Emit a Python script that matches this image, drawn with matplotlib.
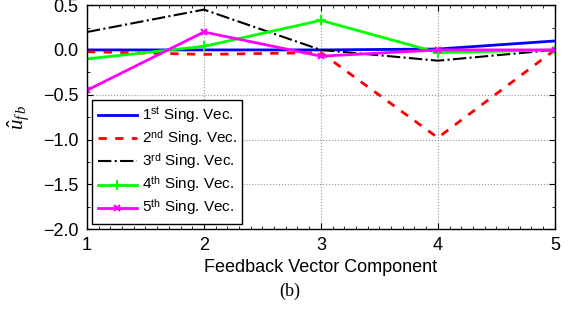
import matplotlib
matplotlib.use('Agg')
import matplotlib.pyplot as plt
from matplotlib.ticker import MultipleLocator, FuncFormatter

plt.rcParams['font.family'] = ['Liberation Sans', 'DejaVu Sans']
plt.rcParams['mathtext.fontset'] = 'custom'
plt.rcParams['mathtext.rm'] = 'Liberation Sans'
plt.rcParams['mathtext.it'] = 'Liberation Serif:italic'

components = [1, 2, 3, 4, 5]
sv1 = [0.0, 0.0, 0.0, 0.01, 0.1]
sv2 = [-0.02, -0.05, -0.03, -0.98, 0.0]
sv3 = [0.2, 0.45, 0.0, -0.12, 0.0]
sv4 = [-0.1, 0.04, 0.33, -0.03, 0.0]
sv5 = [-0.45, 0.2, -0.07, 0.0, 0.0]
labels = [r'1$^{\rm st}$ Sing. Vec.', r'2$^{\rm nd}$ Sing. Vec.', r'3$^{\rm rd}$ Sing. Vec.',
          r'4$^{\rm th}$ Sing. Vec.', r'5$^{\rm th}$ Sing. Vec.']

fig = plt.figure(figsize=(5.72, 3.2), dpi=100)
ax = fig.add_axes([0.152, 0.284, 0.818, 0.70])

ax.plot(components, sv1, color='#0000ff', lw=2, label=labels[0])
ax.plot(components, sv2, color='#ff0000', lw=2, ls=(0, (3, 3)), label=labels[1])
ax.plot(components, sv3, color='black', lw=1.5, ls='-.', label=labels[2])
ax.plot(components, sv4, color='#00ff00', lw=2, marker='+', ms=7, mew=1.5, label=labels[3])
ax.plot(components, sv5, color='#ff00ff', lw=2, marker='x', ms=5, mew=1.5, label=labels[4])

ax.set_xlim(1, 5)
ax.set_ylim(-2.0, 0.5)
ax.xaxis.set_major_locator(MultipleLocator(1))
ax.xaxis.set_minor_locator(MultipleLocator(0.1))
ax.yaxis.set_major_locator(MultipleLocator(0.5))
ax.yaxis.set_minor_locator(MultipleLocator(0.25))
ax.yaxis.set_major_formatter(FuncFormatter(lambda v, p: ('%.1f' % v).replace('-', '\u2212')))
ax.tick_params(which='both', direction='in', top=True, right=True, labelsize=13)
ax.tick_params(which='major', length=4, pad=6)
ax.tick_params(which='minor', length=2)
ax.grid(True, which='major', ls=':', color='#999999', lw=0.8)
for s in ax.spines.values():
    s.set_linewidth(1.0)

ax.set_xlabel('Feedback Vector Component', fontsize=13, labelpad=3)
ax.set_ylabel(r'$\hat{u}_{f\,b}$', fontsize=15, labelpad=8)

leg = ax.legend(loc='lower left', fontsize=11, fancybox=False, edgecolor='black',
                framealpha=1, borderaxespad=0.35, handlelength=2.6, handletextpad=0.3,
                labelspacing=0.2, borderpad=0.35)
leg.get_frame().set_linewidth(1.0)

fig.text(0.507, 0.075, '(b)', fontsize=13, family='Liberation Serif', ha='center')

fig.savefig('out.png', dpi=100)
